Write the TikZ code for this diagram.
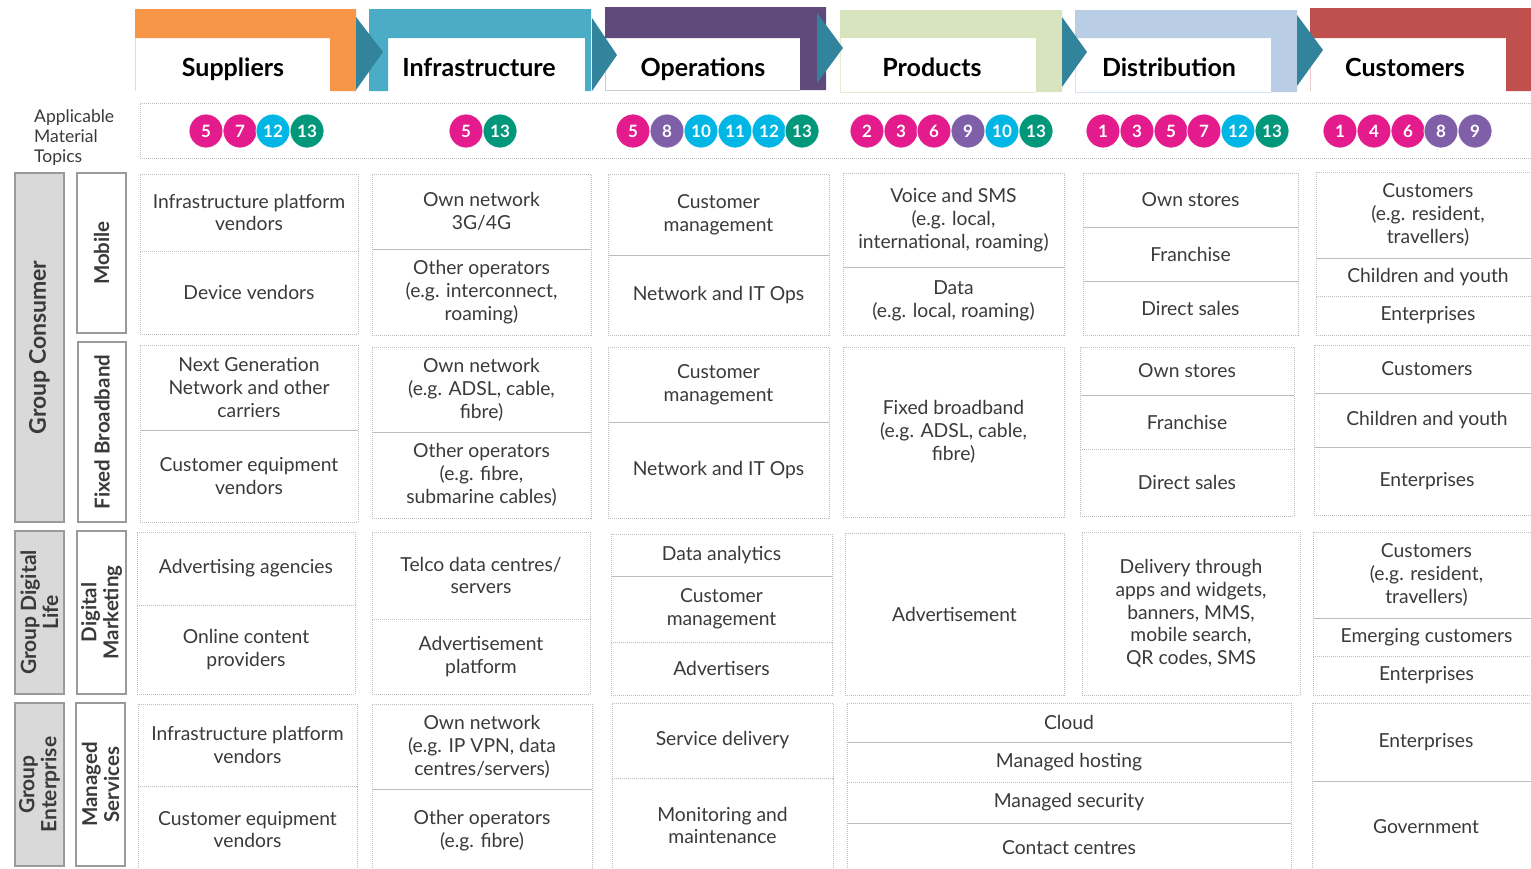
\documentclass[tikz,border=0pt]{standalone}
\usepackage{fontspec}
\setmainfont{Lato}
\definecolor{cOrange}{HTML}{F79646}
\definecolor{cTeal}{HTML}{4BACC6}
\definecolor{cPurple}{HTML}{604A7B}
\definecolor{cGreen}{HTML}{D7E4BD}
\definecolor{cBlue}{HTML}{B9CDE5}
\definecolor{cRed}{HTML}{C0504D}
\definecolor{cArrow}{HTML}{31849B}
\definecolor{bMag}{HTML}{E31B8D}
\definecolor{bPur}{HTML}{7F5FA8}
\definecolor{bCya}{HTML}{00B6E4}
\definecolor{bGrn}{HTML}{00977A}
\definecolor{txt}{HTML}{3A3A3A}
\definecolor{lineg}{HTML}{BDBDBD}
\definecolor{grpfill}{HTML}{D9D9D9}
\definecolor{grpline}{HTML}{9A9A9A}
\newcommand\cellbox[6]{\node[cell,minimum width={(#4)-(#2)},minimum height={(#5)-(#3)}] (#1) at ({((#2)+(#4))/2},{((#3)+(#5))/2+1}) {#6};}
\begin{document}
\begin{tikzpicture}[x=1pt,y=-1pt,
  cell/.style={draw=lineg,dash pattern=on 1pt off 1pt,line width=0.8pt,inner sep=0pt,outer sep=0pt,align=center,text=txt,font=\fontsize{19.3}{22.8}\selectfont},
  hdr/.style={anchor=base,font=\bfseries\fontsize{25}{28}\selectfont,text=black},
  grp/.style={draw=grpline,fill=grpfill,line width=1.2pt,inner sep=0pt,align=center,font=\bfseries\fontsize{21}{22}\selectfont,text=txt},
  sub/.style={grp,fill=white,font=\bfseries\fontsize{20.5}{22}\selectfont},
  badge/.style={circle,draw=white,line width=0.8pt,minimum size=34pt,inner sep=0pt,text=white,font=\bfseries\fontsize{17}{17}\selectfont},
  tri/.style={fill=cArrow,draw=none}]
\useasboundingbox (0,0) rectangle (1531,868);
\clip (0,0) rectangle (1531,868);
\fill[white] (0,0) rectangle (1531,868);

% ---------- header stages ----------
\fill[cOrange] (135,9) -- (356,9) -- (356,91) -- (330,91) -- (330,38) -- (135,38) -- cycle;
\draw[cOrange!40,line width=0.5pt] (135,38) -- (135,91);
\fill[cTeal] (369,9) -- (591,9) -- (591,91) -- (585,91) -- (585,38) -- (388,38) -- (388,91) -- (369,91) -- cycle;
\fill[cPurple] (605,7) -- (826,7) -- (826,90) -- (800,90) -- (800,38) -- (605,38) -- cycle;
\draw[cPurple!30,line width=0.5pt] (605,38) -- (605,90) -- (800,90);
\fill[cGreen] (840,10) -- (1062,10) -- (1062,92) -- (1036,92) -- (1036,38) -- (840,38) -- cycle;
\draw[cGreen!70,line width=0.6pt] (840,38) -- (840,92) -- (1036,92);
\fill[cBlue] (1075,10) -- (1297,10) -- (1297,92) -- (1271,92) -- (1271,38) -- (1075,38) -- cycle;
\draw[cBlue!60,line width=0.6pt] (1075,38) -- (1075,92) -- (1271,92);
\fill[cRed] (1310,8) -- (1531,8) -- (1531,91) -- (1506,91) -- (1506,38) -- (1310,38) -- cycle;
\draw[cRed!30,line width=0.5pt] (1310,38) -- (1310,91);

\fill[tri] (356,17) -- (383,52) -- (356,90) -- cycle;
\fill[tri] (592,18) -- (617,55) -- (592,91) -- cycle;
\fill[tri] (817,13) -- (843,48) -- (817,83) -- cycle;
\fill[tri] (1062,17) -- (1087,52) -- (1062,87) -- cycle;
\fill[tri] (1297,15) -- (1323,50) -- (1297,86) -- cycle;

\node[hdr] (h1) at (233,76) {Suppliers};
\node[hdr] (h2) at (479,76) {Infrastructure};
\node[hdr] (h3) at (703,76) {Operations};
\node[hdr] (h4) at (932,76) {Products};
\node[hdr] (h5) at (1169,76) {Distribution};
\node[hdr] (h6) at (1405,76) {Customers};

% ---------- material topics ----------
\node[anchor=north west,align=left,text=txt,inner sep=0pt,font=\fontsize{17.5}{20}\selectfont] (amt) at (34,109) {Applicable\\Material\\Topics};
\node[draw=lineg,dash pattern=on 1pt off 1pt,line width=0.8pt,minimum width=1400,minimum height=55,inner sep=0pt] (topicrow) at (840,130.5) {};
\foreach \px/\n/\c in {206/5/bMag,240/7/bMag,273/12/bCya,307/13/bGrn,
  466/5/bMag,500/13/bGrn,
  633/5/bMag,667/8/bPur,701/10/bCya,735/11/bCya,769/12/bCya,802/13/bGrn,
  867/2/bMag,901/3/bMag,934/6/bMag,968/9/bPur,1002/10/bCya,1036/13/bGrn,
  1103/1/bMag,1137/3/bMag,1171/5/bMag,1204/7/bMag,1238/12/bCya,1272/13/bGrn,
  1340/1/bMag,1374/4/bMag,1408/6/bMag,1441/8/bPur,1475/9/bPur}
  \node[badge,fill=\c] (badge-\px) at (\px,131) {\n};

% ---------- left group labels ----------
\node[grp,rotate=90,minimum width=349,minimum height=49,font=\bfseries\fontsize{23}{24}\selectfont] (gcons) at (39.5,347.5) {Group Consumer};
\node[sub,rotate=90,minimum width=160,minimum height=49] (gmob) at (101.5,253) {Mobile};
\node[sub,rotate=90,minimum width=180,minimum height=48] (gfbb) at (102,432) {Fixed Broadband};
\node[grp,rotate=90,minimum width=163,minimum height=49] (gdl) at (39.5,612.5) {Group Digital\\Life};
\node[sub,rotate=90,minimum width=163,minimum height=49] (gdm) at (101.5,612.5) {Digital\\Marketing};
\node[grp,rotate=90,minimum width=163,minimum height=49] (gent) at (39.5,784.5) {Group\\Enterprise};
\node[sub,rotate=90,minimum width=163,minimum height=49] (gms) at (100.5,784.5) {Managed\\Services};

% ---------- Suppliers ----------
\cellbox{s1}{140}{173}{358}{250}{Infrastructure platform\\vendors}
\cellbox{s2}{140}{250}{358}{333}{Device vendors}
\cellbox{s3}{140}{344}{358}{429}{Next Generation\\Network and other\\carriers}
\cellbox{s4}{140}{429}{358}{521}{Customer equipment\\vendors}
\cellbox{s5}{137}{531}{355}{604}{Advertising agencies}
\cellbox{s6}{137}{604}{355}{693}{Online content\\providers}
\cellbox{s7}{138}{703}{357}{785}{Infrastructure platform\\vendors}
\cellbox{s8}{138}{785}{357}{872}{Customer equipment\\vendors}
% ---------- Infrastructure ----------
\cellbox{i1}{372}{173}{591}{248}{Own network\\3G/4G}
\cellbox{i2}{372}{248}{591}{334}{Other operators\\(e.g. interconnect,\\roaming)}
\cellbox{i3}{372}{346}{591}{431}{Own network\\(e.g. ADSL, cable,\\fibre)}
\cellbox{i4}{372}{431}{591}{517}{Other operators\\(e.g. fibre,\\submarine cables)}
\cellbox{i5}{372}{531}{590}{618}{Telco data centres/\\servers}
\cellbox{i6}{372}{618}{590}{693}{Advertisement\\platform}
\cellbox{i7}{372}{703}{592}{788}{Own network\\(e.g. IP VPN, data\\centres/servers)}
\cellbox{i8}{372}{788}{592}{872}{Other operators\\(e.g. fibre)}
% ---------- Operations ----------
\cellbox{o1}{608}{173}{829}{254}{Customer\\management}
\cellbox{o2}{608}{254}{829}{334}{Network and IT Ops}
\cellbox{o3}{608}{346}{829}{421}{Customer\\management}
\cellbox{o4}{608}{421}{829}{517}{Network and IT Ops}
\cellbox{o5}{611}{533}{832}{575}{Data analytics}
\cellbox{o6}{611}{575}{832}{641}{Customer\\management}
\cellbox{o7}{611}{641}{832}{694}{Advertisers}
\cellbox{o8}{612}{702}{833}{777}{Service delivery}
\cellbox{o9}{612}{777}{833}{872}{Monitoring and\\maintenance}
% ---------- Products ----------
\cellbox{p1}{843}{172}{1064}{266}{Voice and SMS\\(e.g. local,\\international, roaming)}
\cellbox{p2}{843}{266}{1064}{334}{Data\\(e.g. local, roaming)}
\cellbox{p3}{843}{346}{1064}{516}{Fixed broadband\\(e.g. ADSL, cable,\\fibre)}
\cellbox{p4}{845}{532}{1064}{694}{Advertisement}
% ---------- Distribution ----------
\cellbox{d1}{1083}{172}{1298}{226}{Own stores}
\cellbox{d2}{1083}{226}{1298}{280}{Franchise}
\cellbox{d3}{1083}{280}{1298}{334}{Direct sales}
\cellbox{d4}{1080}{346}{1294}{394}{Own stores}
\cellbox{d5}{1080}{394}{1294}{448}{Franchise}
\cellbox{d6}{1080}{448}{1294}{515}{Direct sales}
\cellbox{d7}{1082}{531}{1300}{694}{Delivery through\\apps and widgets,\\banners, MMS,\\mobile search,\\QR codes, SMS}
% ---------- Managed services (Products + Distribution) ----------
\cellbox{m1}{847}{702}{1291}{741}{Cloud}
\cellbox{m2}{847}{741}{1291}{781}{Managed hosting}
\cellbox{m3}{847}{781}{1291}{822}{Managed security}
\cellbox{m4}{847}{822}{1291}{872}{Contact centres}
% ---------- Customers ----------
\cellbox{c1}{1316}{171}{1540}{257}{Customers\\(e.g. resident,\\travellers)}
\cellbox{c2}{1316}{257}{1540}{295}{Children and youth}
\cellbox{c3}{1316}{295}{1540}{334}{Enterprises}
\cellbox{c4}{1314}{344}{1540}{392}{Customers}
\cellbox{c5}{1314}{392}{1540}{446}{Children and youth}
\cellbox{c6}{1314}{446}{1540}{514}{Enterprises}
\cellbox{c7}{1313}{531}{1540}{617}{Customers\\(e.g. resident,\\travellers)}
\cellbox{c8}{1313}{617}{1540}{655}{Emerging customers}
\cellbox{c9}{1313}{655}{1540}{694}{Enterprises}
\cellbox{c10}{1312}{702}{1540}{780}{Enterprises}
\cellbox{c11}{1312}{780}{1540}{872}{Government}
\end{tikzpicture}
\end{document}
